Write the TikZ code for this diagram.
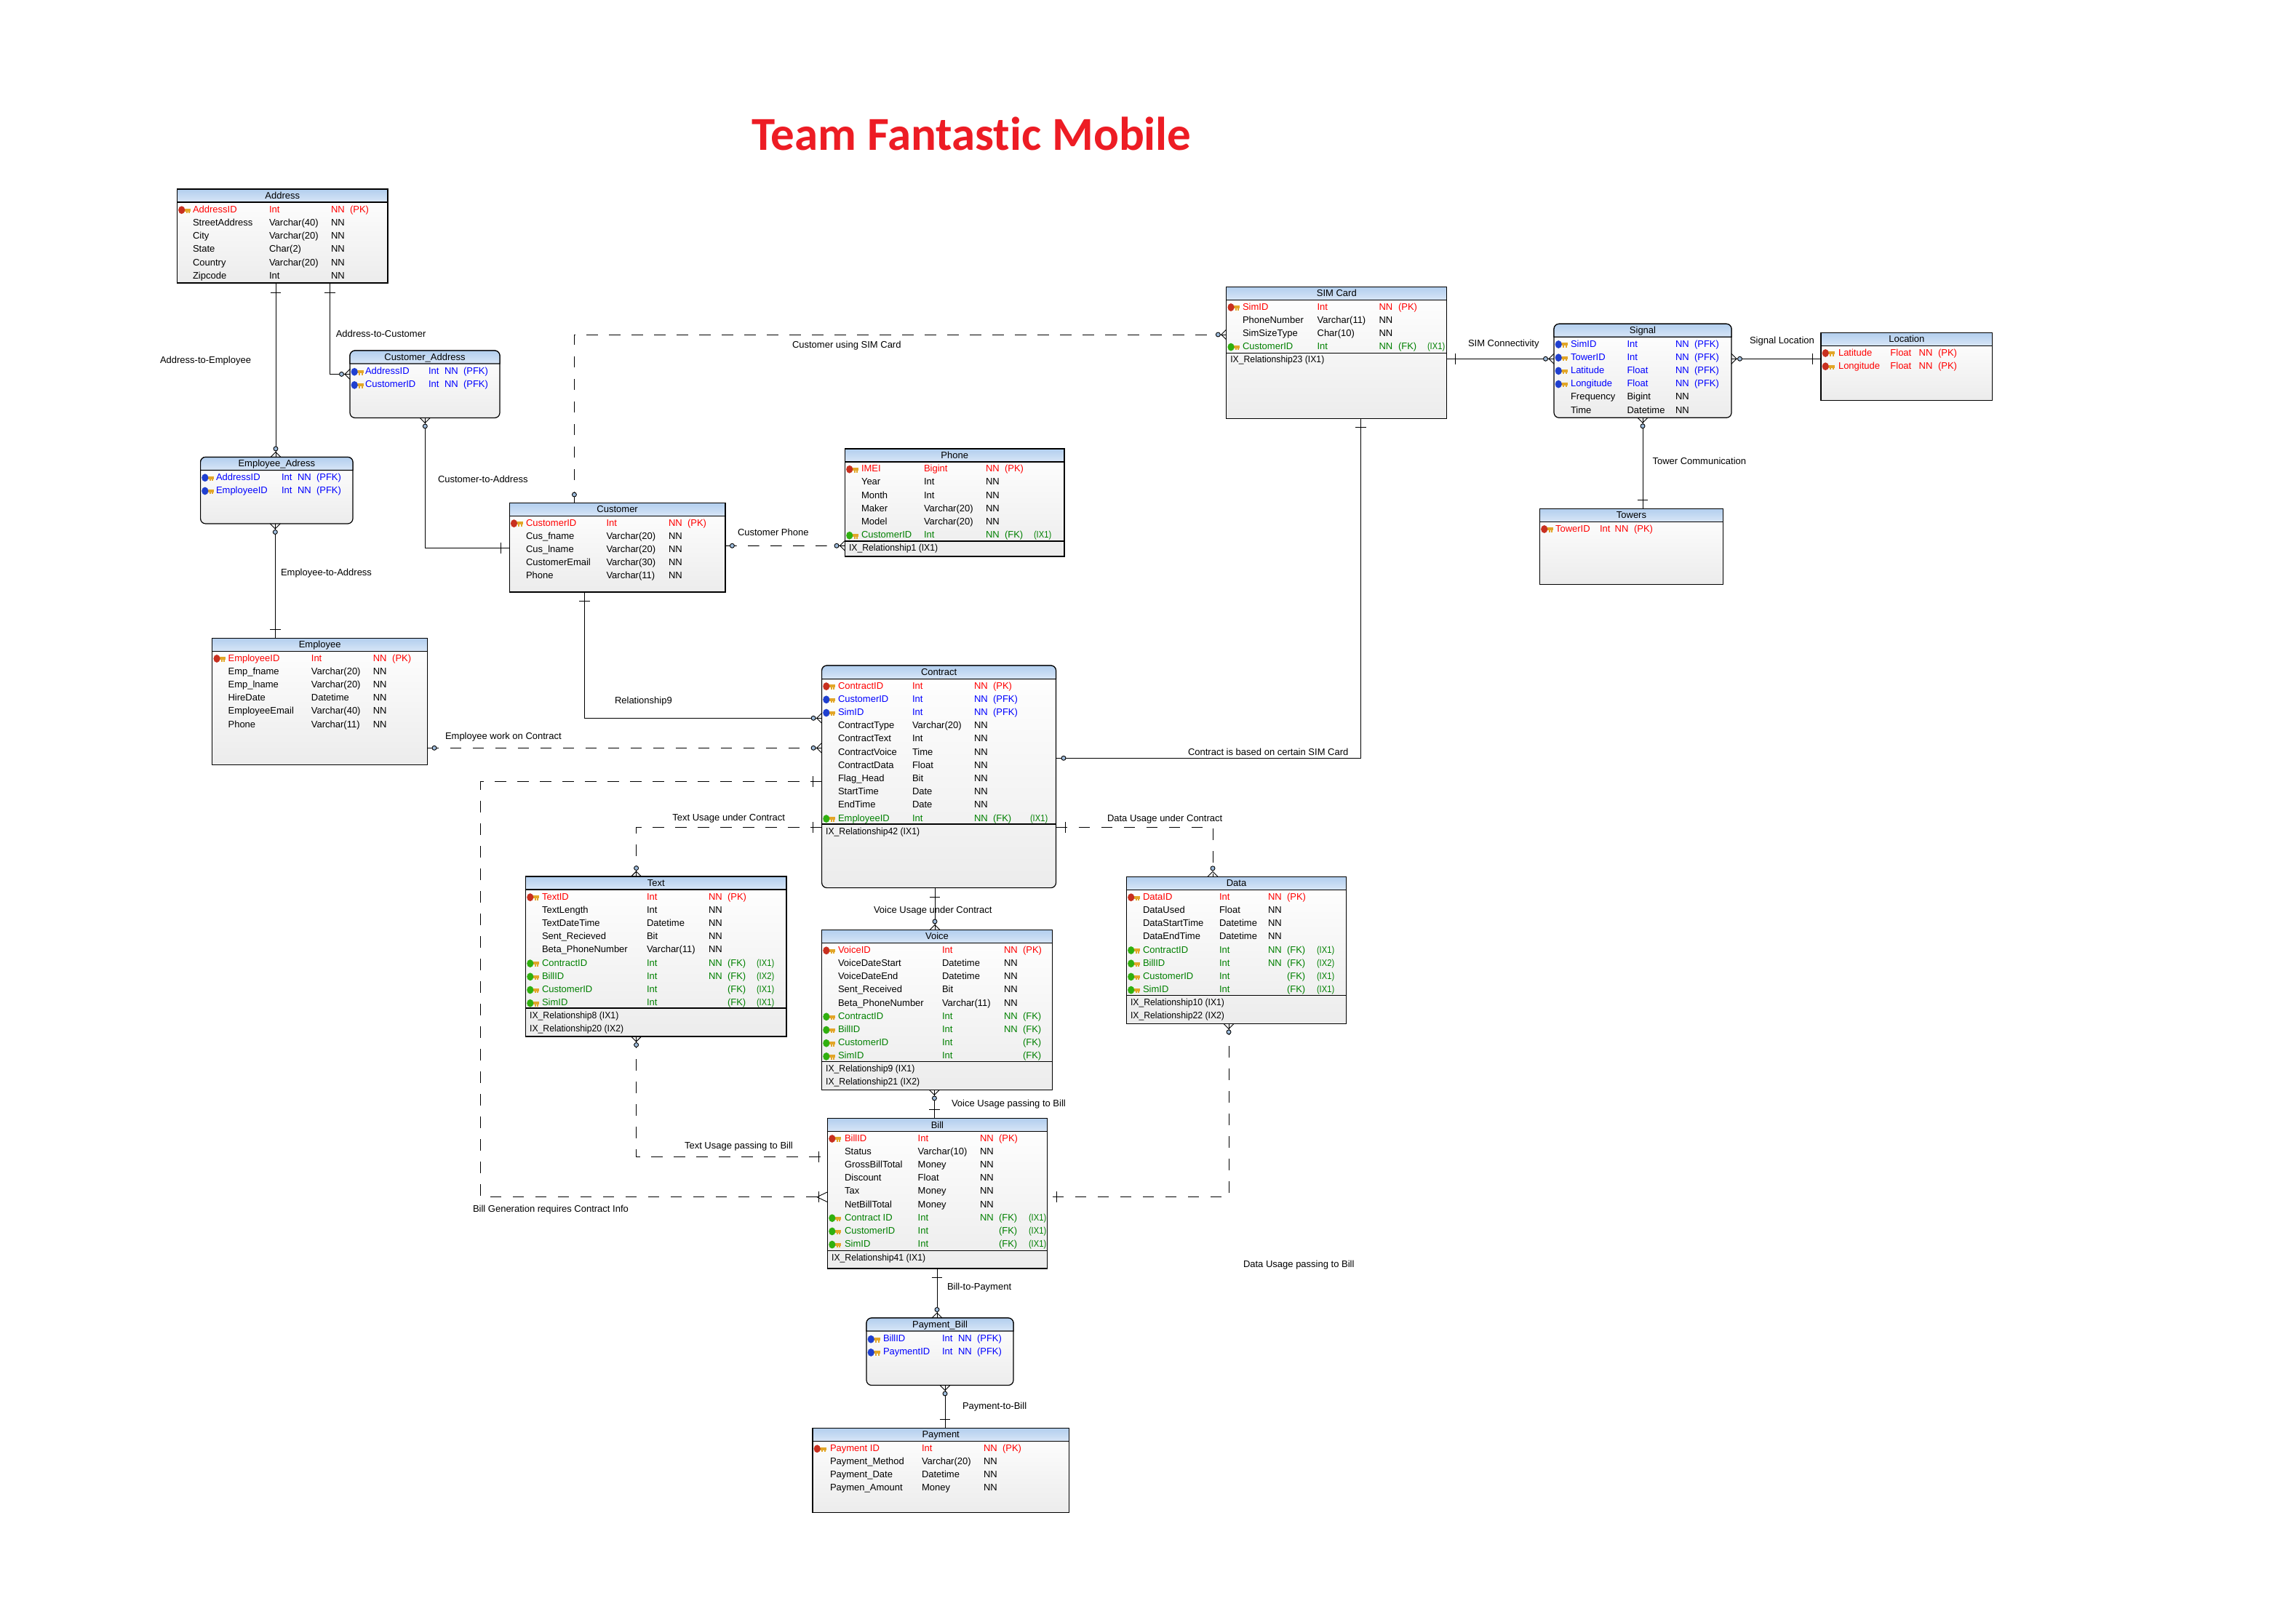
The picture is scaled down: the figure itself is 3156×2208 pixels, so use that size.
\documentclass[tikz,border=0pt]{standalone}
\usepackage{graphicx}
\usepackage{fontspec}
\setmainfont{Liberation Sans}
\newfontfamily\titlefont[Ligatures=CommonOff]{Carlito}
\definecolor{pkred}{RGB}{255,0,0}
\definecolor{pfkblue}{RGB}{0,0,255}
\definecolor{fkgreen}{RGB}{0,128,0}
\definecolor{keyred}{RGB}{200,48,32}
\definecolor{keyblue}{RGB}{32,64,208}
\definecolor{keygreen}{RGB}{48,176,16}
\definecolor{keygold}{RGB}{226,166,40}
\definecolor{hdrtop}{RGB}{178,206,238}
\definecolor{hdrbot}{RGB}{216,230,247}
\definecolor{bodybot}{RGB}{236,236,236}
\definecolor{knob}{RGB}{160,190,222}
\definecolor{titlered}{RGB}{237,28,36}
\tikzset{
  tbl/.style={draw=black,line width=1.2pt,top color=white,bottom color=bodybot,inner sep=0pt,outer sep=0pt,anchor=north west},
  hdr/.style={draw=black,line width=1.2pt,top color=hdrtop,bottom color=hdrbot},
  divider/.style={draw=black,line width=1.1pt},
  rel/.style={draw=black,line width=1pt},
  reld/.style={draw=black,line width=1pt,dash pattern=on 15.5pt off 15.5pt},
  mark line/.style={draw=black,line width=0.9pt},
  celltext/.style={inner sep=0pt,outer sep=0pt,anchor=base west,font=\fontsize{13}{15}\selectfont},
  headtext/.style={inner sep=0pt,outer sep=0pt,anchor=base,font=\fontsize{13}{15}\selectfont},
  rellabel/.style={inner sep=0pt,outer sep=0pt,anchor=base west,font=\fontsize{13}{15}\selectfont,text=black},
}
\newcounter{cellno}
\newcommand\ia{\scalebox{0.86}[1]{(IX1)}}
\newcommand\ib{\scalebox{0.86}[1]{(IX2)}}
% table: [corner]{name}{x1}{y1}{x2}{y2}{yh}{title}
\newcommand\etable[8][0]{%
  \node[tbl,rounded corners=#1pt,minimum width={(#5-#3)*1pt},minimum height={(#6-#4)*1pt}] (#2) at (#3,#4) {};
  \path[hdr] (#3,#7) [rounded corners=#1pt] -- (#3,#4) -- (#5,#4) [sharp corners] -- (#5,#7) -- cycle;
  \node[headtext] (#2head) at ({(#3+#5)/2},{(#4+#7)/2+4.5}) {#8};
  \xdef\cxa{#3}\xdef\cxb{#5}%
}
\newcommand\cols[5]{\gdef\cN{#1}\gdef\cT{#2}\gdef\cA{#3}\gdef\cP{#4}\gdef\cI{#5}}
\newcommand\startrows[1]{\xdef\ry{#1}}
\newcommand\nextrow{\pgfmathparse{\ry+18.2}\xdef\ry{\pgfmathresult}}
\newcommand\cell[3]{\if\relax\detokenize{#3}\relax\else
  \stepcounter{cellno}\node[celltext,text=#2] (c\arabic{cellno}) at (#1,{\ry+4.7}) {#3};\fi}
\newcommand\keyic[1]{%
  \fill[keygold] ({\cxa+8},{\ry-1}) rectangle ({\cxa+18.5},{\ry+3});
  \fill[keygold] ({\cxa+12},{\ry+3}) rectangle ({\cxa+14},{\ry+5.5});
  \fill[keygold] ({\cxa+15.5},{\ry+3}) rectangle ({\cxa+17.5},{\ry+5.5});
  \fill[#1] ({\cxa+6.2},{\ry+1.2}) ellipse (4.6pt and 5.4pt);
}
% row: {colour}{key colour or empty}{name}{type}{nn}{pk}{ix}
\newcommand\erow[7]{%
  \if\relax\detokenize{#2}\relax\else\keyic{#2}\fi
  \cell{\cN}{#1}{#3}\cell{\cT}{#1}{#4}\cell{\cA}{#1}{#5}\cell{\cP}{#1}{#6}\cell{\cI}{#1}{#7}\nextrow}
\newcommand\ixrow[1]{\cell{\cxa+5.5}{black}{\scalebox{0.94}[1]{#1}}\nextrow}
\newcommand\pk[5]{\erow{pkred}{keyred}{#1}{#2}{#3}{#4}{#5}}
\newcommand\pf[2]{\erow{pfkblue}{keyblue}{#1}{#2}{NN}{(PFK)}{}}
\newcommand\fk[5]{\erow{fkgreen}{keygreen}{#1}{#2}{#3}{#4}{#5}}
\newcommand\at[2]{\erow{black}{}{#1}{#2}{NN}{}{}}
% decorations: point on the table edge, outward unit vector
\newcommand\crowf[4]{%
  \draw[mark line] ({#1+7*#3},{#2+7*#4}) -- ({#1+7*#4},{#2+7*#3});
  \draw[mark line] ({#1+7*#3},{#2+7*#4}) -- ({#1-7*#4},{#2-7*#3});
  \draw[mark line,fill=knob] ({#1+11.5*#3},{#2+11.5*#4}) circle (3pt);
}
\newcommand\tickh[2]{\draw[mark line] ({#1-7.3},#2) -- ({#1+7.3},#2);}
\newcommand\tickv[2]{\draw[mark line] (#1,{#2-7.3}) -- (#1,{#2+7.3});}
\newcommand\knoba[2]{\draw[mark line,fill=knob] (#1,#2) circle (3pt);}
\begin{document}
\begin{tikzpicture}[x=1pt,y=-1pt]
\useasboundingbox (0,0) rectangle (3156,2208);
\fill[white] (0,0) rectangle (3156,2208);
\node[inner sep=0pt,anchor=base west,text=titlered,font=\titlefont\bfseries\fontsize{65}{72}\selectfont] (title) at (1033,206) {Team Fantastic Mobile};

% ---------- tables
\etable{tAddress}{243.5}{260}{533}{389}{278}{Address}
\cols{265}{370}{455}{481}{0}\startrows{287.5}
\pk{AddressID}{Int}{NN}{(PK)}{}
\at{StreetAddress}{Varchar(40)}\at{City}{Varchar(20)}\at{State}{Char(2)}\at{Country}{Varchar(20)}\at{Zipcode}{Int}

\etable[7]{tCustAddr}{481}{482}{687}{574.5}{500}{Customer\_Address}
\cols{502}{589}{611}{637}{0}\startrows{510}
\pf{AddressID}{Int}\pf{CustomerID}{Int}

\etable[7]{tEmpAddr}{275.6}{628.4}{485}{720}{646.4}{Employee\_Adress}
\cols{297}{387}{409}{435}{0}\startrows{655.6}
\pf{AddressID}{Int}\pf{EmployeeID}{Int}

\etable{tEmployee}{291.8}{877.3}{587.5}{1051.3}{895.3}{Employee}
\cols{313.6}{427.9}{512.8}{539.2}{0}\startrows{904.3}
\pk{EmployeeID}{Int}{NN}{(PK)}{}
\at{Emp\_fname}{Varchar(20)}\at{Emp\_lname}{Varchar(20)}\at{HireDate}{Datetime}\at{EmployeeEmail}{Varchar(40)}\at{Phone}{Varchar(11)}

\etable{tCustomer}{700.3}{691.4}{997}{814}{709.4}{Customer}
\cols{723}{833.5}{919}{945}{0}\startrows{718.4}
\pk{CustomerID}{Int}{NN}{(PK)}{}
\at{Cus\_fname}{Varchar(20)}\at{Cus\_lname}{Varchar(20)}\at{CustomerEmail}{Varchar(30)}\at{Phone}{Varchar(11)}

\etable{tPhone}{1161.5}{617}{1463}{765}{635}{Phone}
\cols{1184}{1270}{1355}{1381}{1421}\startrows{644}
\pk{IMEI}{Bigint}{NN}{(PK)}{}
\at{Year}{Int}\at{Month}{Int}\at{Maker}{Varchar(20)}\at{Model}{Varchar(20)}
\fk{CustomerID}{Int}{NN}{(FK)}{\ia}
\draw[divider] (\cxa,744) -- (\cxb,744);
\ixrow{IX\_Relationship1 (IX1)}

\etable[7]{tContract}{1129.6}{915}{1451.5}{1220.6}{933.6}{Contract}
\cols{1152}{1254}{1339}{1365}{1416}\startrows{942.4}
\pk{ContractID}{Int}{NN}{(PK)}{}
\erow{pfkblue}{keyblue}{CustomerID}{Int}{NN}{(PFK)}{}
\erow{pfkblue}{keyblue}{SimID}{Int}{NN}{(PFK)}{}
\at{ContractType}{Varchar(20)}\at{ContractText}{Int}\at{ContractVoice}{Time}\at{ContractData}{Float}\at{Flag\_Head}{Bit}\at{StartTime}{Date}\at{EndTime}{Date}
\fk{EmployeeID}{Int}{NN}{(FK)}{\ia}
\draw[divider] (\cxa,1133) -- (\cxb,1133);
\ixrow{IX\_Relationship42 (IX1)}

\etable{tText}{722.6}{1205}{1081}{1425}{1223}{Text}
\cols{745}{889}{974}{1000}{1040}\startrows{1232.4}
\pk{TextID}{Int}{NN}{(PK)}{}
\at{TextLength}{Int}\at{TextDateTime}{Datetime}\at{Sent\_Recieved}{Bit}\at{Beta\_PhoneNumber}{Varchar(11)}
\fk{ContractID}{Int}{NN}{(FK)}{\ia}\fk{BillID}{Int}{NN}{(FK)}{\ib}\fk{CustomerID}{Int}{}{(FK)}{\ia}\fk{SimID}{Int}{}{(FK)}{\ia}
\draw[divider] (\cxa,1386) -- (\cxb,1386);
\startrows{1396}
\ixrow{IX\_Relationship8 (IX1)}\ixrow{IX\_Relationship20 (IX2)}

\etable{tVoice}{1129.6}{1278.4}{1446.4}{1498.4}{1296.4}{Voice}
\cols{1152}{1295}{1380}{1406}{0}\startrows{1305.6}
\pk{VoiceID}{Int}{NN}{(PK)}{}
\at{VoiceDateStart}{Datetime}\at{VoiceDateEnd}{Datetime}\at{Sent\_Received}{Bit}\at{Beta\_PhoneNumber}{Varchar(11)}
\fk{ContractID}{Int}{NN}{(FK)}{}\fk{BillID}{Int}{NN}{(FK)}{}\fk{CustomerID}{Int}{}{(FK)}{}\fk{SimID}{Int}{}{(FK)}{}
\draw[divider] (\cxa,1459.4) -- (\cxb,1459.4);
\startrows{1468.6}
\ixrow{IX\_Relationship9 (IX1)}\ixrow{IX\_Relationship21 (IX2)}

\etable{tData}{1548.5}{1205.3}{1850.5}{1407.4}{1223.3}{Data}
\cols{1571}{1676}{1743}{1769}{1810}\startrows{1232.5}
\pk{DataID}{Int}{NN}{(PK)}{}
\at{DataUsed}{Float}\at{DataStartTime}{Datetime}\at{DataEndTime}{Datetime}
\fk{ContractID}{Int}{NN}{(FK)}{\ia}\fk{BillID}{Int}{NN}{(FK)}{\ib}\fk{CustomerID}{Int}{}{(FK)}{\ia}\fk{SimID}{Int}{}{(FK)}{\ia}
\draw[divider] (\cxa,1368.3) -- (\cxb,1368.3);
\startrows{1377.5}
\ixrow{IX\_Relationship10 (IX1)}\ixrow{IX\_Relationship22 (IX2)}

\etable{tBill}{1137.6}{1537.5}{1439.3}{1744}{1555.5}{Bill}
\cols{1161}{1261.7}{1347}{1373}{1414}\startrows{1564.3}
\pk{BillID}{Int}{NN}{(PK)}{}
\at{Status}{Varchar(10)}\at{GrossBillTotal}{Money}\at{Discount}{Float}\at{Tax}{Money}\at{NetBillTotal}{Money}
\fk{Contract ID}{Int}{NN}{(FK)}{\ia}\fk{CustomerID}{Int}{}{(FK)}{\ia}\fk{SimID}{Int}{}{(FK)}{\ia}
\draw[divider] (\cxa,1719.3) -- (\cxb,1719.3);
\startrows{1728.5}
\ixrow{IX\_Relationship41 (IX1)}

\etable[7]{tPayBill}{1191}{1812}{1393}{1904.5}{1830}{Payment\_Bill}
\cols{1214}{1295}{1317}{1343}{0}\startrows{1840}
\pf{BillID}{Int}\pf{PaymentID}{Int}

\etable{tPayment}{1117}{1963.4}{1469.4}{2079.4}{1981.4}{Payment}
\cols{1141}{1267}{1352}{1378}{0}\startrows{1990.6}
\pk{Payment ID}{Int}{NN}{(PK)}{}
\at{Payment\_Method}{Varchar(20)}\at{Payment\_Date}{Datetime}\at{Paymen\_Amount}{Money}

\etable{tSim}{1685.8}{394.3}{1988.8}{575.3}{412.3}{SIM Card}
\cols{1708}{1810.6}{1895.5}{1922}{1962}\startrows{421.3}
\pk{SimID}{Int}{NN}{(PK)}{}
\at{PhoneNumber}{Varchar(11)}\at{SimSizeType}{Char(10)}
\fk{CustomerID}{Int}{NN}{(FK)}{\ia}
\draw[divider] (\cxa,485.3) -- (\cxb,485.3);
\ixrow{IX\_Relationship23 (IX1)}

\etable[7]{tSignal}{2136}{445.3}{2380}{574.3}{463.3}{Signal}
\cols{2159}{2236.5}{2303}{2329}{0}\startrows{472.3}
\pf{SimID}{Int}\pf{TowerID}{Int}\pf{Latitude}{Float}\pf{Longitude}{Float}
\at{Frequency}{Bigint}\at{Time}{Datetime}

\etable{tLocation}{2503}{457.3}{2738.7}{550.3}{475.3}{Location}
\cols{2527}{2598.4}{2637.7}{2664}{0}\startrows{484.3}
\pk{Latitude}{Float}{NN}{(PK)}{}\pk{Longitude}{Float}{NN}{(PK)}{}

\etable{tTowers}{2116.5}{699.3}{2368.4}{803.3}{717.3}{Towers}
\cols{2138}{2199}{2219.6}{2246}{0}\startrows{726.3}
\pk{TowerID}{Int}{NN}{(PK)}{}

% ---------- connectors
\draw[rel] ([xshift=135.5pt]tAddress.south west) -- ([xshift=103.4pt]tEmpAddr.north west);
\tickh{379}{402}\crowf{379}{628.4}{0}{-1}
\draw[rel] ([xshift=210.2pt]tAddress.south west) |- ([yshift=-32.4pt]tCustAddr.north west);
\tickh{453.7}{402}\crowf{481}{514.4}{-1}{0}
\draw[rel] ([xshift=103.3pt]tCustAddr.south west) |- ([yshift=-62.2pt]tCustomer.north west);
\crowf{584.3}{574.5}{0}{1}\tickv{688.4}{753.6}
\draw[rel] ([xshift=102.7pt]tEmpAddr.south west) -- ([xshift=86.5pt]tEmployee.north west);
\crowf{378.3}{720}{0}{1}\tickh{378.3}{865.3}
\draw[reld] ([xshift=89.1pt]tCustomer.north west) |- ([yshift=-65.7pt]tSim.north west);
\knoba{789.4}{680}\crowf{1685.8}{460}{-1}{0}
\draw[reld] ([yshift=-58.9pt]tCustomer.north east) -- ([yshift=-133.3pt]tPhone.north west);
\knoba{1006.4}{750.3}\crowf{1161.5}{750.3}{-1}{0}
\draw[rel] ([xshift=103.1pt]tCustomer.south west) |- ([yshift=-72.3pt]tContract.north west);
\tickh{803.4}{826}\crowf{1129.6}{987.3}{-1}{0}
\draw[reld] ([yshift=-151pt]tEmployee.north east) -- ([yshift=-113.3pt]tContract.north west);
\knoba{597}{1028.3}\crowf{1129.6}{1028.3}{-1}{0}
\draw[rel] ([yshift=-127.3pt]tContract.north east) -| ([xshift=184.6pt]tSim.south west);
\knoba{1462}{1042.3}\tickh{1870.4}{587.3}
\draw[rel] ([yshift=-99pt]tSim.north east) -- ([yshift=-48pt]tSignal.north west);
\tickv{2000}{493.3}\crowf{2136}{493.3}{-1}{0}
\draw[rel] ([yshift=-36pt]tLocation.north west) -- ([yshift=-48pt]tSignal.north east);
\tickv{2491}{493.3}\crowf{2380}{493.3}{1}{0}
\draw[rel] ([xshift=122pt]tSignal.south west) -- ([xshift=141.5pt]tTowers.north west);
\crowf{2258}{574.3}{0}{1}\tickh{2258}{687.3}
\draw[reld] ([yshift=-222.3pt]tContract.north west) -| ([xshift=152pt]tText.north west);
\tickv{1117}{1137.3}\crowf{874.6}{1205}{0}{-1}
\draw[reld] ([yshift=-222.5pt]tContract.north east) -| ([xshift=118.5pt]tData.north west);
\tickv{1464}{1137.5}\crowf{1667}{1205.3}{0}{-1}
\draw[rel] ([xshift=155.4pt]tContract.south west) -- ([xshift=155.4pt]tVoice.north west);
\tickh{1285}{1233.6}\crowf{1285}{1278.4}{0}{-1}
\draw[rel] ([xshift=154.8pt]tVoice.south west) -- ([xshift=146.8pt]tBill.north west);
\crowf{1284.4}{1498.4}{0}{1}\tickh{1284.4}{1525.6}
\draw[reld] ([xshift=152pt]tText.south west) |- ([yshift=-52.8pt]tBill.north west);
\crowf{874.6}{1425}{0}{1}\tickv{1125.7}{1590.3}
\coordinate (bendA) at (660.4,1074.3);
\coordinate (bendB) at (660.4,1645.7);
\draw[reld] ([yshift=-159.3pt]tContract.north west) -- (bendA) -- (bendB) -- ([yshift=-108.2pt]tBill.north west);
\tickv{1117}{1074.3}\tickv{1125.7}{1645.7}
\draw[mark line] (1123,1645.7) -- (1137.6,1638.7);
\draw[mark line] (1123,1645.7) -- (1137.6,1652.7);
\draw[reld] ([xshift=140.5pt]tData.south west) |- ([yshift=-108pt]tBill.north east);
\crowf{1689}{1407.4}{0}{1}\tickv{1452.6}{1645.5}
\draw[rel] ([xshift=150.4pt]tBill.south west) -- ([xshift=97pt]tPayBill.north west);
\tickh{1288}{1756.4}\crowf{1288}{1812}{0}{-1}
\draw[rel] ([xshift=108pt]tPayBill.south west) -- ([xshift=182pt]tPayment.north west);
\crowf{1299}{1904.5}{0}{1}\tickh{1299}{1951.6}

% ---------- labels
\node[rellabel] (l1) at (220,499) {Address-to-Employee};
\node[rellabel] (l2) at (461.8,463.8) {Address-to-Customer};
\node[rellabel] (l3) at (602,663.9) {Customer-to-Address};
\node[rellabel] (l4) at (386,791) {Employee-to-Address};
\node[rellabel] (l5) at (1089,478.5) {Customer using SIM Card};
\node[rellabel] (l6) at (1014,736.2) {Customer Phone};
\node[rellabel] (l7) at (2018,476.2) {SIM Connectivity};
\node[rellabel] (l8) at (2405,472.8) {Signal Location};
\node[rellabel] (l9) at (2271.5,638.8) {Tower Communication};
\node[rellabel] (l10) at (845,967.5) {Relationship9};
\node[rellabel] (l11) at (612,1016.2) {Employee work on Contract};
\node[rellabel] (l12) at (1633,1038) {Contract is based on certain SIM Card};
\node[rellabel] (l13) at (924.4,1128.8) {Text Usage under Contract};
\node[rellabel] (l14) at (1522,1129.8) {Data Usage under Contract};
\node[rellabel] (l15) at (1201,1255) {Voice Usage under Contract};
\node[rellabel] (l16) at (1308,1521.5) {Voice Usage passing to Bill};
\node[rellabel] (l17) at (941,1579.5) {Text Usage passing to Bill};
\node[rellabel] (l18) at (650,1666) {Bill Generation requires Contract Info};
\node[rellabel] (l19) at (1709,1742.9) {Data Usage passing to Bill};
\node[rellabel] (l20) at (1302,1773.9) {Bill-to-Payment};
\node[rellabel] (l21) at (1323,1937) {Payment-to-Bill};
\end{tikzpicture}
\end{document}
